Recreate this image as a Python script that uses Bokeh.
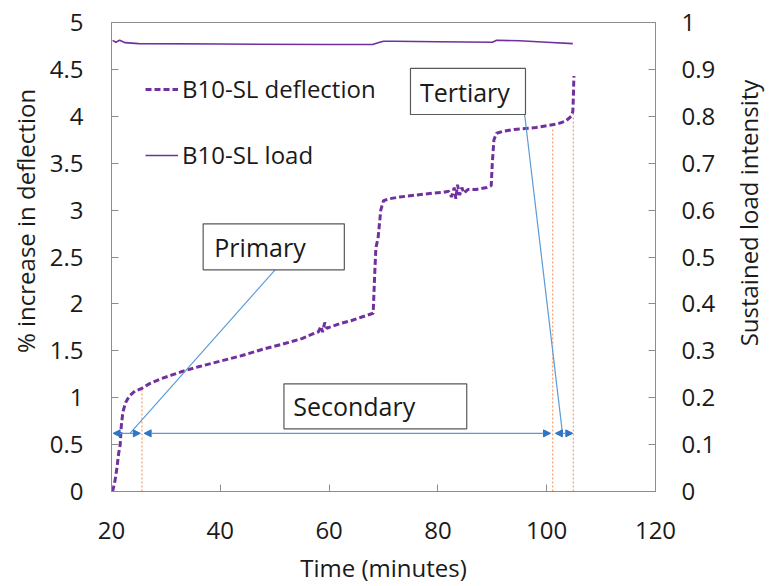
import math
from bokeh.plotting import figure
from bokeh.layouts import row
from bokeh.models import (Range1d, LinearAxis, FixedTicker, NumeralTickFormatter,
                          Legend, LegendItem, Arrow, NormalHead)
from bokeh.core.properties import value
from bokeh.embed import file_html
from bokeh.resources import INLINE

# ---------------- data ----------------
defl_time = [20.2, 20.6, 21.0, 21.3, 21.6, 21.8, 22.1, 22.6, 23.3, 24.3, 25.6, 27, 29, 31, 33, 36,
             40, 44, 48, 52, 55, 57, 58, 58.5, 58.8, 59.2, 59.6, 60, 62, 64, 66, 68.1, 68.3,
             68.6, 69, 69.5, 70, 71, 73, 76, 79, 81, 82, 82.5, 83, 83.3, 83.6, 84, 84.4, 84.8,
             85.5, 87, 89, 89.8, 90.0, 90.3, 90.8, 92, 94, 96, 98, 100, 102, 103.5, 104.5,
             104.8, 104.9, 105.0]
defl_pct = [0.0, 0.1, 0.25, 0.4, 0.5, 0.7, 0.85, 0.95, 1.02, 1.07, 1.1, 1.15, 1.2, 1.24, 1.28, 1.33,
            1.39, 1.45, 1.52, 1.58, 1.63, 1.68, 1.70, 1.76, 1.70, 1.80, 1.74, 1.75, 1.79, 1.82, 1.86,
            1.9, 2.2, 2.6, 2.7, 3.0, 3.1, 3.12, 3.14, 3.16, 3.18, 3.19, 3.2, 3.14, 3.24, 3.12, 3.27,
            3.16, 3.24, 3.18, 3.22, 3.22, 3.24, 3.26, 3.5, 3.75, 3.82, 3.84, 3.86, 3.87, 3.88, 3.9,
            3.92, 3.95, 4.0, 4.05, 4.2, 4.43]

load_time = [20.2, 20.8, 21.5, 22.5, 25, 40, 60, 68, 69, 70, 72, 80, 90, 90.8, 95, 100, 104.8]
load_int = [0.962, 0.958, 0.962, 0.957, 0.955, 0.954, 0.953, 0.953, 0.957, 0.96, 0.96, 0.959,
            0.958, 0.962, 0.961, 0.958, 0.955]

x_ticks = [20, 40, 60, 80, 100, 120]
y_ticks = [0, 0.5, 1, 1.5, 2, 2.5, 3, 3.5, 4, 4.5, 5]
y2_ticks = [0, 0.1, 0.2, 0.3, 0.4, 0.5, 0.6, 0.7, 0.8, 0.9, 1.0]

# stage boundaries (time, deflection at the boundary)
stage_time = [25.6, 101.1, 104.9]
stage_defl = [1.08, 3.87, 4.03]

# stage arrows (start, end) in minutes at deflection level
arrow_level = 0.62
arrow_start = [20.3, 26.0, 101.6]
arrow_end = [25.3, 100.7, 104.8]

callout_text = ["Primary", "Secondary", "Tertiary"]
y_title = "% increase in deflection"
y2_title = "Sustained load intensity"

FONT = "Open Sans"
AX = "#8c8c8c"
TXT = "#1a1a1a"
PURPLE = "#7030A0"
BLUE = "#5B9BD5"

LEFT_W = 45
RIGHT_W = 40
H = 586

p = figure(frame_width=544, frame_height=469, min_border_left=111 - LEFT_W,
           min_border_right=114 - RIGHT_W, min_border_top=22, min_border_bottom=95,
           x_range=Range1d(20, 120), y_range=Range1d(0, 5),
           output_backend="svg", toolbar_location=None)
p.extra_y_ranges = {"load": Range1d(0, 1)}
p.xgrid.visible = False
p.ygrid.visible = False
p.outline_line_color = AX
p.background_fill_color = "white"
p.border_fill_color = "white"

def style_axis(ax, standoff, label=None, label_standoff=0):
    ax.axis_line_color = AX
    ax.major_tick_line_color = AX
    ax.major_tick_in = 7
    ax.major_tick_out = 0
    ax.minor_tick_line_color = None
    ax.major_label_text_font = FONT
    ax.major_label_text_font_size = "24px"
    ax.major_label_text_color = TXT
    ax.major_label_standoff = standoff
    if label:
        ax.axis_label = label
        ax.axis_label_text_font = FONT
        ax.axis_label_text_font_size = "24px"
        ax.axis_label_text_font_style = "normal"
        ax.axis_label_text_color = TXT
        ax.axis_label_standoff = label_standoff

xa = p.xaxis[0]
xa.ticker = FixedTicker(ticks=x_ticks)
style_axis(xa, 30, "Time (minutes)", 9)

ya = p.yaxis[0]
ya.ticker = FixedTicker(ticks=y_ticks)
ya.formatter = NumeralTickFormatter(format="0.[0]")
style_axis(ya, 28)

ya2 = LinearAxis(y_range_name="load", ticker=FixedTicker(ticks=y2_ticks),
                 formatter=NumeralTickFormatter(format="0.[0]"))
style_axis(ya2, 26)
p.add_layout(ya2, "right")

# stage boundary dotted lines
p.segment(x0=stage_time, y0=[0] * 3, x1=stage_time, y1=stage_defl,
          line_color="#F4A672", line_dash="2 2", line_width=1.3)

# series
r_def = p.line(defl_time, defl_pct, line_color=PURPLE, line_width=3, line_dash="6 3")
r_load = p.line(load_time, load_int, y_range_name="load", line_color=PURPLE, line_width=1.6)

# stage arrows
for a, b in zip(arrow_start, arrow_end):
    p.add_layout(Arrow(x_start=a, y_start=arrow_level, x_end=b, y_end=arrow_level,
                       line_color=BLUE, line_width=1.2,
                       start=NormalHead(size=7, fill_color="#2E75C6", line_color="#2E75C6"),
                       end=NormalHead(size=7, fill_color="#2E75C6", line_color="#2E75C6")))

# leader lines (box anchor -> target)
p.segment(x0=[50.15, 95.9], y0=[2.367, 4.04], x1=[23.4, 102.9], y1=[arrow_level, arrow_level],
          line_color=BLUE, line_width=1.2)

# callout boxes
box_l = [36.85, 51.7, 74.96]
box_r = [62.8, 85.3, 96.1]
box_b = [2.363, 0.668, 4.019]
box_t = [2.854, 1.148, 4.51]
p.quad(left=box_l, right=box_r, bottom=box_b, top=box_t,
       fill_color="white", line_color="#595959", line_width=1.2)
p.text(x=[38.9, 53.4, 76.7], y=[2.61, 0.908, 4.264], text=callout_text,
       text_font=value(FONT), text_font_size="25px", text_color=TXT,
       text_align="left", text_baseline="middle")

# legends
for item, loc in [(LegendItem(label="B10-SL deflection", renderers=[r_def]), (34, 386)),
                  (LegendItem(label="B10-SL load", renderers=[r_load]), (34, 320))]:
    lg = Legend(items=[item], location=loc, padding=0, margin=0,
                border_line_alpha=0, background_fill_alpha=0,
                glyph_width=33, glyph_height=20, label_standoff=4,
                label_text_font=FONT, label_text_font_size="24px", label_text_color=TXT)
    p.add_layout(lg, "center")

# side strips carrying the vertical axis titles (read bottom to top)
def title_strip(w, text, cx, cy):
    s = figure(width=w, height=H, min_border=0, x_range=Range1d(0, w), y_range=Range1d(0, H),
               x_axis_location=None, y_axis_location=None, toolbar_location=None,
               output_backend="svg")
    s.xgrid.visible = False
    s.ygrid.visible = False
    s.outline_line_color = None
    s.background_fill_color = "white"
    s.border_fill_color = "white"
    s.text(x=[cx], y=[H - cy], text=[text], angle=math.pi / 2,
           text_font=value(FONT), text_font_size="24px", text_color=TXT,
           text_align="center", text_baseline="middle")
    return s

left_strip = title_strip(LEFT_W, y_title, 25, 248)
right_strip = title_strip(RIGHT_W, y2_title, 748 - (769 - RIGHT_W), 238)

layout = row(left_strip, p, right_strip, spacing=0)
open("out.html", "w").write(file_html(layout, INLINE))
